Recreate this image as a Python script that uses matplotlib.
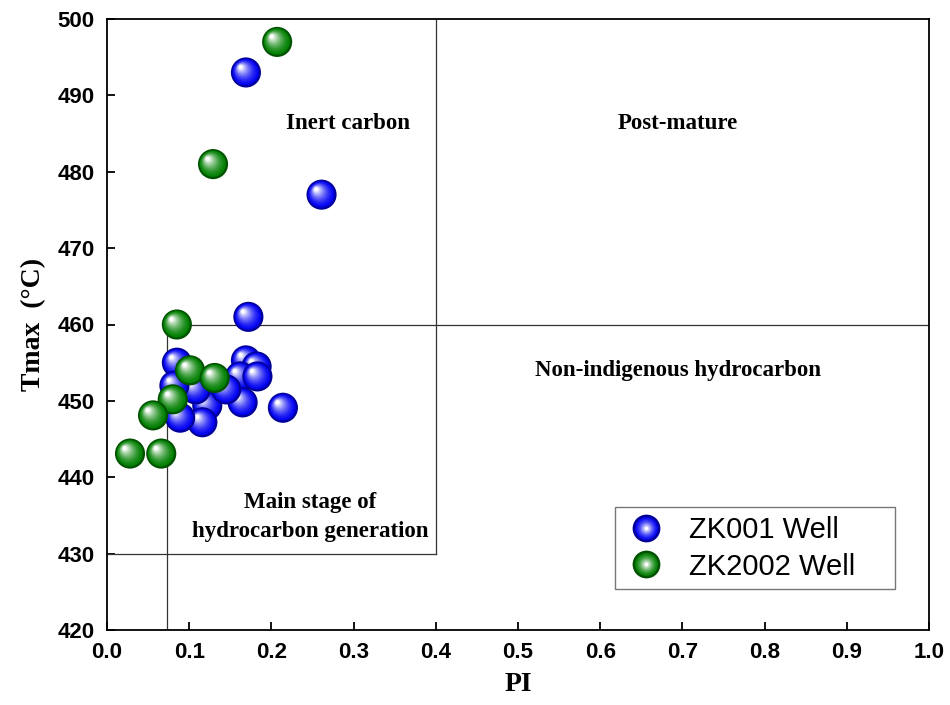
import numpy as np
import matplotlib
matplotlib.use("Agg")
import matplotlib.pyplot as plt
import matplotlib.transforms as mtransforms
from matplotlib.lines import Line2D
from matplotlib.legend_handler import HandlerTuple

# ZK001 Well
zk001_pi = [0.169, 0.261, 0.172, 0.085, 0.169, 0.182, 0.162, 0.183, 0.165,
            0.122, 0.116, 0.214, 0.089, 0.108, 0.145, 0.082]
zk001_tmax = [493, 477, 461, 455, 455.3, 454.5, 453.2, 453.2, 449.8,
              449.4, 447.2, 449.1, 447.8, 451.5, 451.5, 452]

# ZK2002 Well
zk2002_pi = [0.207, 0.129, 0.085, 0.101, 0.131, 0.080, 0.056, 0.028, 0.066]
zk2002_tmax = [497, 481, 460, 454, 453, 450.2, 448.1, 443.1, 443.1]

pi_split = 0.073
zone_labels = ["Inert carbon", "Post-mature", "Non-indigenous hydrocarbon",
               "Main stage of\nhydrocarbon generation"]
zone_pos = [(0.293, 486.3), (0.694, 486.3), (0.695, 454.0), (0.247, 434.8)]

plt.rcParams['font.family'] = ['Liberation Sans', 'DejaVu Sans']

fig = plt.figure(figsize=(9.5, 7.05), dpi=100)
ax = fig.add_axes([107 / 950, 75 / 705, 822 / 950, 611 / 705])


def shade(base, t):
    w = t ** 1.6
    return np.array(base) * (1 - w) + np.ones(3) * w


def sphere(ax, x, y, base, rim, z, size=470, n=16):
    # fake a shaded ball: stacked circles drifting toward the upper-left highlight
    r_in = np.sqrt(size) / 72.0 / 2
    ax.scatter([x], [y], s=size, color=rim, edgecolors='none', zorder=z)
    for k in range(1, n + 1):
        t = k / n
        sz = size * (0.92 - 0.8 * t) ** 2
        off = mtransforms.ScaledTranslation(-0.36 * r_in * t, 0.36 * r_in * t,
                                            fig.dpi_scale_trans)
        ax.scatter([x], [y], s=sz, color=shade(base, t), edgecolors='none',
                   zorder=z + t * 0.5, transform=ax.transData + off)


blue, blue_rim = (0.0, 0.0, 0.95), (0.0, 0.0, 0.6)
green, green_rim = (0.0, 0.50, 0.0), (0.0, 0.32, 0.0)

z = 3
for x, y in zip(zk001_pi, zk001_tmax):
    sphere(ax, x, y, blue, blue_rim, z)
    z += 1
for x, y in zip(zk2002_pi, zk2002_tmax):
    sphere(ax, x, y, green, green_rim, z)
    z += 1

# zone boundaries
lc = dict(color='#333333', lw=0.9, zorder=2)
ax.plot([0, 0.4], [430, 430], **lc)
ax.plot([0.4, 0.4], [430, 500], **lc)
ax.plot([pi_split, 1.0], [460, 460], **lc)
ax.plot([pi_split, pi_split], [420, 460], **lc)

for lab, (x, y) in zip(zone_labels, zone_pos):
    ax.text(x, y, lab, ha='center', va='center', fontsize=16.5,
            fontweight='bold', family='Liberation Serif', linespacing=1.45)

ax.set_xlim(0, 1.0)
ax.set_ylim(420, 500)
ax.set_xticks(np.arange(0, 1.01, 0.1))
ax.set_yticks(np.arange(420, 501, 10))
ax.xaxis.set_major_formatter(matplotlib.ticker.FormatStrFormatter('%.1f'))
ax.tick_params(direction='in', length=6, width=1.3, labelsize=16, pad=9)
for lbl in ax.get_xticklabels() + ax.get_yticklabels():
    lbl.set_fontweight('bold')
for sp in ax.spines.values():
    sp.set_linewidth(1.3)

ax.set_xlabel('PI', fontsize=20, fontweight='bold', family='Liberation Serif', labelpad=6)
ax.set_ylabel('Tmax  (°C)', fontsize=20, fontweight='bold', family='Liberation Serif',
              labelpad=8)


def legend_ball(base, rim, ms=20, n=8):
    parts = [Line2D([], [], ls='none', marker='o', markersize=ms,
                    markerfacecolor=rim, markeredgecolor='none')]
    for k in range(1, n + 1):
        t = k / n
        parts.append(Line2D([], [], ls='none', marker='o', markersize=ms * (0.92 - 0.8 * t),
                            markerfacecolor=shade(base, t), markeredgecolor='none'))
    return tuple(parts)


leg = ax.legend([legend_ball(blue, blue_rim), legend_ball(green, green_rim)],
                ['ZK001 Well', 'ZK2002 Well'],
                handler_map={tuple: HandlerTuple(ndivide=1, pad=0)},
                loc='upper left', bbox_to_anchor=(0.618, 0.07, 0.3406, 0.131),
                mode='expand', fontsize=21, frameon=True, fancybox=False,
                borderpad=0.3, handlelength=1.55, handletextpad=0.7,
                labelspacing=0.3, borderaxespad=0)
leg.get_frame().set_edgecolor('#555555')
leg.get_frame().set_linewidth(1.0)
leg.set_zorder(50)

fig.savefig('out.png', dpi=100)
